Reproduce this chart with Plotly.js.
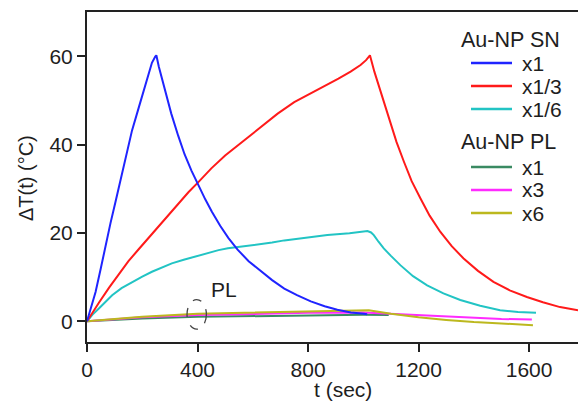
<!DOCTYPE html>
<html>
<head>
<meta charset="utf-8">
<script src="https://cdn.plot.ly/plotly-3.0.1.min.js"></script>
<style>html,body{margin:0;padding:0;background:#fff;}#chart{width:578px;height:406px;}</style>
</head>
<body>
<div id="chart"></div>
<script>
// ---- data ----
var snX1_t = [0, 15, 31, 50, 67, 85, 103, 120, 139, 163, 187, 211, 235, 247, 251, 260, 271, 288, 305, 330, 353, 378, 403, 428, 452, 482, 512, 545, 585, 630, 670, 714, 760, 810, 860, 906, 955, 1002, 1014];
var snX1_y = [0, 3.2, 6.6, 12, 17.2, 22.2, 27, 31.8, 36.8, 43.2, 48.3, 53.4, 58.5, 59.9, 60.2, 57.6, 54.9, 50.8, 47.0, 42.0, 37.8, 34.1, 30.8, 27.6, 24.8, 21.6, 18.8, 16.2, 13.6, 11.3, 9.3, 7.4, 5.9, 4.5, 3.4, 2.6, 2.0, 1.7, 1.6];

var snX13_t = [0, 20, 43, 80, 115, 150, 187, 225, 259, 295, 331, 367, 403, 450, 500, 550, 596, 630, 690, 750, 810, 870, 910, 954, 990, 1010, 1024, 1040, 1062, 1080, 1098, 1120, 1147, 1175, 1207, 1240, 1279, 1320, 1363, 1415, 1471, 1530, 1592, 1650, 1712, 1777];
var snX13_y = [0, 2.0, 4.2, 7.6, 10.6, 13.6, 16.3, 19.0, 21.4, 24.1, 26.7, 29.2, 31.5, 34.6, 37.5, 40.0, 42.3, 44.0, 47.0, 49.6, 51.6, 53.5, 54.9, 56.5, 58.0, 59.1, 60.2, 56.5, 52.0, 48.5, 45.1, 40.6, 36.1, 31.7, 27.8, 23.9, 20.2, 17.0, 14.2, 11.4, 8.9, 7.0, 5.5, 4.3, 3.2, 2.5];

var snX16_t = [0, 20, 43, 65, 91, 125, 163, 200, 235, 270, 307, 350, 391, 435, 476, 510, 548, 590, 630, 670, 714, 790, 870, 950, 990, 1015, 1028, 1038, 1055, 1074, 1100, 1134, 1180, 1231, 1290, 1351, 1423, 1495, 1560, 1625];
var snX16_y = [0, 1.5, 2.9, 4.3, 5.9, 7.5, 8.9, 10.1, 11.2, 12.2, 13.1, 13.9, 14.6, 15.4, 16.1, 16.5, 16.8, 17.1, 17.4, 17.8, 18.3, 18.9, 19.5, 19.9, 20.2, 20.4, 20.1, 19.5, 18.0, 16.5, 14.8, 12.7, 10.2, 8.1, 6.3, 4.8, 3.5, 2.5, 2.1, 1.9];

var plX1_t = [0, 200, 400, 600, 800, 1000, 1092];
var plX1_y = [0, 0.6, 1.0, 1.2, 1.35, 1.45, 1.4];

var plX3_t = [0, 200, 400, 600, 800, 1000, 1100, 1200, 1300, 1400, 1500, 1610];
var plX3_y = [0, 0.9, 1.4, 1.7, 1.9, 2.0, 1.7, 1.3, 1.0, 0.7, 0.5, 0.4];

var plX6_t = [0, 200, 400, 600, 800, 1020, 1100, 1200, 1300, 1400, 1500, 1614];
var plX6_y = [0, 1.0, 1.7, 2.0, 2.3, 2.5, 1.7, 0.9, 0.3, -0.2, -0.5, -0.9];

var xTicks = [0, 400, 800, 1200, 1600];
var yTicks = [0, 20, 40, 60];

var groupTitles = ["Au-NP SN", "Au-NP PL"];
var snNames = ["x1", "x1/3", "x1/6"];
var plNames = ["x1", "x3", "x6"];
var snColors = ["#1f24ff", "#ff1a1a", "#22c4c4"];
var plColors = ["#3a8a62", "#ff2bff", "#bcb81e"];

var xTitle = "t (sec)";
var yTitle = "\u0394T(t) (\u00B0C)";
var plLabel = "PL";
var plLabelPos = [494, 7.1];
var ellipse = [362, 432, -1.8, 4.9];

// ---- traces ----
function tr(t, y, c) {
  return {x: t, y: y, type: "scatter", mode: "lines", line: {color: c, width: 2}, showlegend: false, hoverinfo: "skip"};
}
var data = [
  tr(plX1_t, plX1_y, plColors[0]),
  tr(plX3_t, plX3_y, plColors[1]),
  tr(plX6_t, plX6_y, plColors[2]),
  tr(snX16_t, snX16_y, snColors[2]),
  tr(snX13_t, snX13_y, snColors[1]),
  tr(snX1_t, snX1_y, snColors[0])
];

// ---- layout ----
var M = {l: 87, r: 0, t: 12, b: 64};
var W = 578, H = 406;
var pw = W - M.l - M.r, ph = H - M.t - M.b;
function px(x) { return (x - M.l) / pw; }
function py(y) { return (H - M.b - y) / ph; }

var FONT = "Liberation Sans, Arial, sans-serif";
var TXT = "#1e1e1e";

var annotations = [];
var shapes = [];

// manual legend
var rowsSN = [63, 86, 109], rowsPL = [167, 190, 213];
var titleRows = [40, 142];
groupTitles.forEach(function (g, i) {
  annotations.push({xref: "paper", yref: "paper", x: px(460), y: py(titleRows[i]), xanchor: "left", yanchor: "middle",
    text: g, showarrow: false, borderpad: 0, font: {family: FONT, size: 21.5, color: TXT}});
});
function legRow(name, color, row) {
  shapes.push({type: "line", xref: "paper", yref: "paper", x0: px(471), x1: px(512), y0: py(row), y1: py(row),
    line: {color: color, width: 2.5}});
  annotations.push({xref: "paper", yref: "paper", x: px(521), y: py(row), xanchor: "left", yanchor: "middle",
    text: name, showarrow: false, borderpad: 0, font: {family: FONT, size: 21, color: TXT}});
}
snNames.forEach(function (n, i) { legRow(n, snColors[i], rowsSN[i]); });
plNames.forEach(function (n, i) { legRow(n, plColors[i], rowsPL[i]); });

// PL label + dashed ellipse
annotations.push({xref: "x", yref: "y", x: plLabelPos[0], y: plLabelPos[1], text: plLabel, showarrow: false,
  font: {family: FONT, size: 21, color: TXT}});
shapes.push({type: "circle", xref: "x", yref: "y", x0: ellipse[0], x1: ellipse[1], y0: ellipse[2], y1: ellipse[3],
  line: {color: "#444", width: 1.3, dash: "dash"}});

// axis titles
annotations.push({xref: "paper", yref: "paper", x: px(343), y: py(389), xanchor: "center", yanchor: "middle",
  text: xTitle, showarrow: false, font: {family: FONT, size: 21, color: TXT}});
annotations.push({xref: "paper", yref: "paper", x: px(26), y: py(178), xanchor: "center", yanchor: "middle",
  text: yTitle, textangle: -90, showarrow: false, font: {family: FONT, size: 20, color: TXT}});

var axisCommon = {
  showgrid: false, zeroline: false, ticks: "outside", ticklen: 8, tickwidth: 2, tickcolor: "#222",
  showline: true, linewidth: 2, linecolor: "#222", tickfont: {family: FONT, size: 21, color: TXT}
};

var layout = {
  width: W, height: H, margin: M,
  paper_bgcolor: "#fff", plot_bgcolor: "#fff",
  font: {family: FONT, size: 21, color: TXT},
  showlegend: false,
  xaxis: Object.assign({}, axisCommon, {range: [0, 1777], tickmode: "array", tickvals: xTicks, ticktext: xTicks.map(String), mirror: true}),
  yaxis: Object.assign({}, axisCommon, {range: [-4.7, 70], tickmode: "array", tickvals: yTicks, ticktext: yTicks.map(String)}),
  annotations: annotations,
  shapes: shapes
};

Plotly.newPlot("chart", data, layout, {staticPlot: true, displayModeBar: false});
</script>
</body>
</html>
